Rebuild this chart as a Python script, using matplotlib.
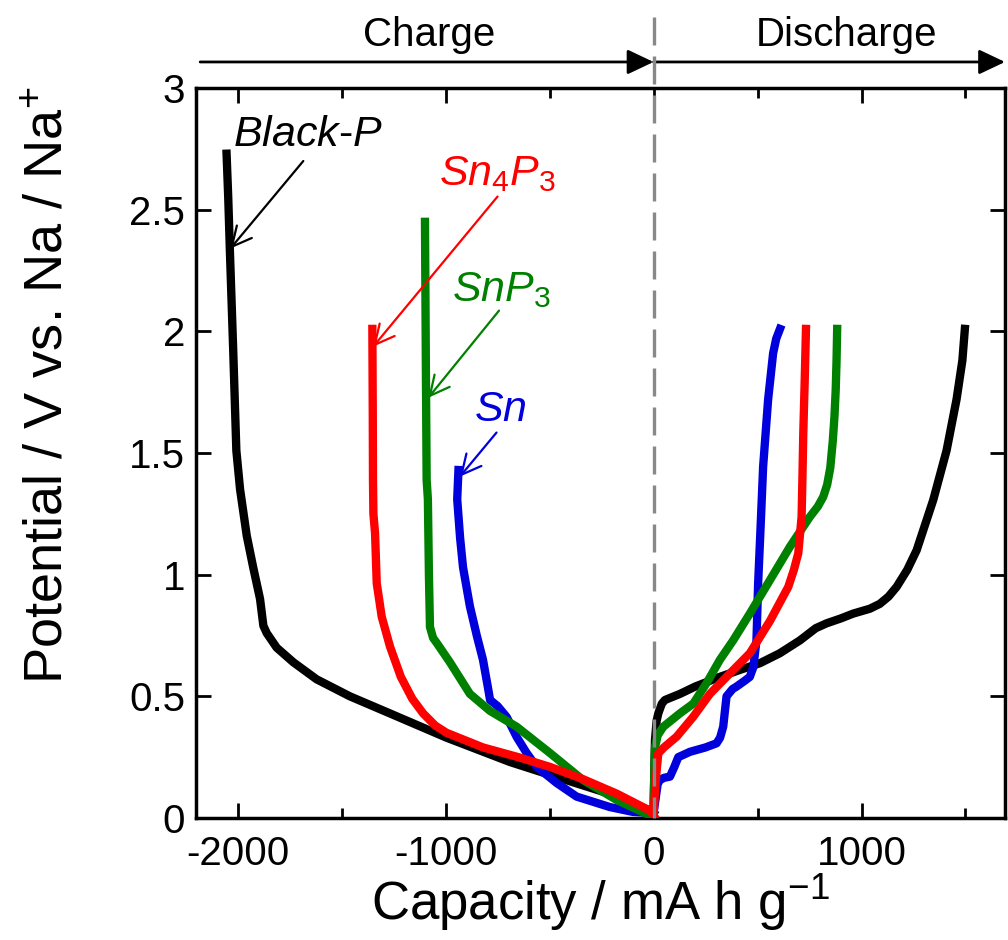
import matplotlib
matplotlib.use('Agg')
import matplotlib.pyplot as plt

plt.rcParams['font.family'] = ['Liberation Sans', 'DejaVu Sans']
plt.rcParams['mathtext.fontset'] = 'custom'
plt.rcParams['mathtext.rm'] = 'Liberation Sans'
plt.rcParams['mathtext.it'] = 'Liberation Sans:italic'

# charge branch (capacity plotted as negative values)
bp_chg_cap = [-2053, -2045, -2037, -2021, -2006, -1988, -1956, -1925, -1892, -1876, -1860, -1812,
              -1732, -1620, -1460, -1268, -995, -690, -435, -177, -17, 0]
bp_chg_v = [2.73, 2.55, 2.33, 1.92, 1.51, 1.35, 1.16, 1.03, 0.90, 0.79, 0.76, 0.70,
            0.64, 0.57, 0.50, 0.43, 0.33, 0.23, 0.16, 0.09, 0.03, 0.02]

sn_chg_cap = [-938, -944, -930, -916, -883, -850, -820, -795, -786, -750, -706, -658, -610,
              -562, -466, -370, -210, -99, 0]
sn_chg_v = [1.43, 1.31, 1.15, 1.03, 0.87, 0.75, 0.65, 0.53, 0.485, 0.46, 0.415, 0.333, 0.267,
            0.21, 0.144, 0.088, 0.045, 0.025, 0.02]

snp3_chg_cap = [-1099, -1095, -1091, -1085, -1080, -1075, -1060, -1043, -979, -883, -786, -658,
                -498, -339, -177, -17, 0]
snp3_chg_v = [2.45, 1.90, 1.39, 1.31, 1.00, 0.785, 0.74, 0.72, 0.64, 0.51, 0.44, 0.375,
              0.267, 0.156, 0.074, 0.01, 0.0]

sn4p3_chg_cap = [-1352, -1350, -1349, -1347, -1339, -1331, -1307, -1267, -1215, -1160, -1108,
                 -1050, -995, -820, -650, -498, -340, -177, -17, 0]
sn4p3_chg_v = [2.01, 1.66, 1.39, 1.25, 1.17, 0.965, 0.827, 0.704, 0.58, 0.49, 0.43,
               0.38, 0.35, 0.29, 0.25, 0.21, 0.16, 0.10, 0.03, 0.01]

# discharge branch
bp_dis_cap = [0, 3, 7, 15, 23, 40, 55, 127, 200, 319, 420, 511, 607, 704, 780, 832, 900, 960,
              1040, 1088, 1130, 1169, 1220, 1265, 1345, 1409, 1457, 1485, 1497]
bp_dis_v = [0.03, 0.15, 0.32, 0.40, 0.43, 0.47, 0.485, 0.51, 0.54, 0.58, 0.61, 0.636, 0.677,
            0.73, 0.78, 0.80, 0.82, 0.84, 0.86, 0.88, 0.91, 0.95, 1.02, 1.10, 1.307, 1.51,
            1.72, 1.88, 2.01]

sn_dis_cap = [0, 10, 20, 31, 50, 79, 100, 119, 175, 250, 303, 320, 335, 351, 380, 399, 440,
              463, 480, 495, 503, 515, 527, 551, 575, 590, 608]
sn_dis_v = [0.02, 0.08, 0.14, 0.156, 0.165, 0.17, 0.21, 0.25, 0.272, 0.29, 0.307, 0.33, 0.375,
            0.50, 0.53, 0.54, 0.565, 0.58, 0.62, 0.73, 0.965, 1.2, 1.444, 1.72, 1.91, 1.97, 2.01]

snp3_dis_cap = [0, 3, 7, 20, 47, 127, 191, 255, 319, 383, 463, 560, 656, 752, 790, 816, 835,
                850, 862, 870, 876, 880, 883]
snp3_dis_v = [0.03, 0.16, 0.29, 0.34, 0.375, 0.43, 0.47, 0.554, 0.65, 0.73, 0.84, 0.978, 1.115,
              1.238, 1.28, 1.32, 1.37, 1.44, 1.55, 1.65, 1.76, 1.88, 2.01]

sn4p3_dis_cap = [0, 5, 10, 23, 50, 111, 191, 271, 351, 463, 560, 648, 675, 696, 712, 716, 720,
                 727, 733]
sn4p3_dis_v = [0.01, 0.08, 0.15, 0.266, 0.29, 0.334, 0.416, 0.51, 0.58, 0.677, 0.81, 0.95,
               1.02, 1.088, 1.238, 1.4, 1.58, 1.80, 2.01]

xticks = [-2000, -1000, 0, 1000]
xtick_labels = ['-2000', '-1000', '0', '1000']
yticks = [0, 0.5, 1, 1.5, 2, 2.5, 3]
ytick_labels = ['0', '0.5', '1', '1.5', '2', '2.5', '3']

fig = plt.figure(figsize=(10.08, 9.4), dpi=100)
ax = fig.add_axes([196 / 1008, 122 / 940, 809 / 1008, 730 / 940])

lw = 6
ax.plot(bp_chg_cap, bp_chg_v, color='black', lw=lw, zorder=2)
ax.plot(bp_dis_cap, bp_dis_v, color='black', lw=lw, zorder=2)
ax.plot(sn_chg_cap, sn_chg_v, color='#0000dd', lw=lw, zorder=3)
ax.plot(sn_dis_cap, sn_dis_v, color='#0000dd', lw=lw, zorder=3)
ax.plot(snp3_chg_cap, snp3_chg_v, color='#008000', lw=lw, zorder=4)
ax.plot(snp3_dis_cap, snp3_dis_v, color='#008000', lw=lw, zorder=4)
ax.plot(sn4p3_chg_cap, sn4p3_chg_v, color='#ff0000', lw=lw, zorder=5)
ax.plot(sn4p3_dis_cap, sn4p3_dis_v, color='#ff0000', lw=lw, zorder=5)

# dashed line separating charge / discharge
ax.plot([0, 0], [3.29, 0], color='#888888', lw=2.4, dashes=(8.4, 3.3), zorder=6, clip_on=False)

ax.set_xlim(-2200, 1690)
ax.set_ylim(0, 3)
ax.set_xticks(xticks)
ax.set_xticklabels(xtick_labels)
ax.set_xticks([-1500, -500, 500, 1500], minor=True)
ax.set_yticks(yticks)
ax.set_yticklabels(ytick_labels)
ax.tick_params(which='both', direction='in', top=True, right=True, width=2, labelsize=29)
ax.tick_params(axis='x', pad=12)
ax.tick_params(axis='y', pad=8)
ax.tick_params(which='major', length=11)
ax.tick_params(which='minor', length=7)
for s in ax.spines.values():
    s.set_linewidth(2.5)

ax.set_xlabel('Capacity / mA h g$^{-1}$', fontsize=38, labelpad=0)
ax.set_ylabel('Potential / V vs. Na / Na$^{+}$', fontsize=39)
ax.yaxis.set_label_coords(-0.152, 0.592)

# charge / discharge arrows above the plot
arrow_style = '-|>,head_length=0.8,head_width=0.38'
ax.annotate('', xy=(0, 3.107), xytext=(-2180, 3.107), annotation_clip=False,
            arrowprops=dict(arrowstyle=arrow_style, color='black',
                            lw=2, mutation_scale=20, shrinkA=0, shrinkB=0))
ax.annotate('', xy=(1690, 3.107), xytext=(0, 3.107), annotation_clip=False,
            arrowprops=dict(arrowstyle=arrow_style, color='black',
                            lw=2, mutation_scale=20, shrinkA=0, shrinkB=0))
ax.text(-1078, 3.173, 'Charge', fontsize=29, ha='center', va='baseline', clip_on=False)
ax.text(929, 3.173, 'Discharge', fontsize=29, ha='center', va='baseline', clip_on=False)

# material labels
labels = [('$\\mathit{Black}$-$\\mathit{P}$', 'black', -1660, 2.76, -1684, 2.70, -2035, 2.34),
          ('$\\mathit{Sn_4P_3}$', '#ff0000', -753, 2.60, -750, 2.554, -1348, 1.937),
          ('$\\mathit{SnP_3}$', '#008000', -730, 2.124, -743, 2.085, -1083, 1.727),
          ('$\\mathit{Sn}$', '#0000dd', -738, 1.63, -755, 1.584, -931, 1.403)]
for txt, col, tx, ty, ax0, ay0, ax1, ay1 in labels:
    ax.text(tx, ty, txt, color=col, fontsize=31, ha='center', va='baseline', zorder=7)
    ax.annotate('', xy=(ax1, ay1), xytext=(ax0, ay0),
                arrowprops=dict(arrowstyle='->,head_length=0.7,head_width=0.35', color=col,
                                lw=1.6, mutation_scale=20, shrinkA=0, shrinkB=0), zorder=7)

plt.savefig('out.png', dpi=100)
